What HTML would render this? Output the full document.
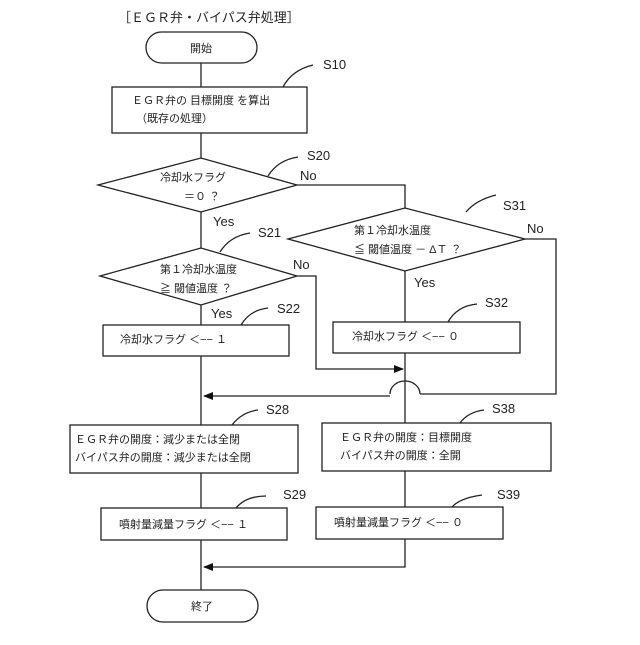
<!DOCTYPE html>
<html><head><meta charset="utf-8"><style>
body{margin:0;background:#fff}
svg text{font-family:"Liberation Sans","Noto Sans CJK JP",sans-serif;fill:#222}
</style></head><body>
<svg width="640" height="640" viewBox="0 0 640 640" xmlns="http://www.w3.org/2000/svg">
<defs><marker id="a" markerWidth="10" markerHeight="8" refX="9" refY="4" orient="auto" markerUnits="userSpaceOnUse"><path d="M0,0 L10,4 L0,8 z" fill="#111"/></marker></defs>
<g stroke="#222" stroke-width="1.3" fill="none">
<rect x="146" y="32" width="111" height="31" rx="15.5" fill="#fff"/>
<line x1="201" y1="63" x2="201" y2="87"/>
<rect x="112" y="87" width="195" height="46"/>
<line x1="201" y1="133" x2="201" y2="158"/>
<polygon points="98,185 201,158 297,185 201,212"/>
<polyline points="297,185 405,185 405,208"/>
<polygon points="288,239 405,208 525,239 405,271"/>
<line x1="201" y1="212" x2="201" y2="248"/>
<polygon points="100,276 201,248 297,276 201,305"/>
<line x1="201" y1="305" x2="201" y2="325"/>
<rect x="103" y="325" width="186" height="31"/>
<line x1="201" y1="356" x2="201" y2="425"/>
<polyline points="297,276 316,276 316,369 403,369" marker-end="url(#a)"/>
<line x1="405" y1="271" x2="405" y2="322"/>
<rect x="333" y="322" width="187" height="31"/>
<line x1="405" y1="353" x2="405" y2="423"/>
<polyline points="525,239 556,239 556,394 420,394"/>
<path d="M420,394 A15,13 0 0 0 390,394"/>
<line x1="390" y1="396" x2="204" y2="396" marker-end="url(#a)"/>
<rect x="70" y="425" width="228" height="48"/>
<rect x="322" y="423" width="229" height="48"/>
<line x1="201" y1="473" x2="201" y2="508"/>
<line x1="405" y1="471" x2="405" y2="507"/>
<rect x="101" y="508" width="186" height="32"/>
<rect x="316" y="507" width="187" height="32"/>
<line x1="201" y1="540" x2="201" y2="590"/>
<polyline points="405,539 405,567 204,567" marker-end="url(#a)"/>
<rect x="147" y="590" width="111" height="32" rx="16" fill="#fff"/>
<path d="M283,87 Q292,70 313,65"/>
<path d="M268,176 Q278,160 298,157"/>
<path d="M220,252 Q230,236 250,233"/>
<path d="M466,212 Q476,200 496,195"/>
<path d="M241,325 Q250,310 268,308"/>
<path d="M448,322 Q457,306 477,304"/>
<path d="M232,425 Q242,412 258,410"/>
<path d="M460,423 Q468,412 484,410"/>
<path d="M236,508 Q246,496 266,496"/>
<path d="M452,507 Q460,498 482,495"/>
</g>
<g font-size="11">
<text x="118" y="22" font-size="13">［ＥＧＲ弁・バイパス弁処理］</text>
<text x="201" y="52" text-anchor="middle">開始</text>
<text x="132" y="104">ＥＧＲ弁の 目標開度 を算出</text>
<text x="136" y="122">（既存の処理）</text>
<text x="160" y="181">冷却水フラグ</text>
<text x="184" y="200">＝０ ？</text>
<text x="354" y="234">第１冷却水温度</text>
<text x="354" y="253">≦ 閾値温度 － ΔＴ ？</text>
<text x="160" y="273">第１冷却水温度</text>
<text x="160" y="292">≧ 閾値温度 ？</text>
<text x="120" y="343">冷却水フラグ ＜−− １</text>
<text x="352" y="340">冷却水フラグ ＜−− ０</text>
<text x="75" y="443">ＥＧＲ弁の開度：減少または全閉</text>
<text x="75" y="461">バイパス弁の開度：減少または全閉</text>
<text x="340" y="441">ＥＧＲ弁の開度：目標開度</text>
<text x="340" y="459">バイパス弁の開度：全開</text>
<text x="119" y="528">噴射量減量フラグ ＜−− １</text>
<text x="334" y="526">噴射量減量フラグ ＜−− ０</text>
<text x="202" y="610" text-anchor="middle">終了</text>
</g>
<g font-size="13">
<text x="323" y="69">S10</text>
<text x="307" y="160">S20</text>
<text x="300" y="180">No</text>
<text x="213" y="226">Yes</text>
<text x="258" y="237">S21</text>
<text x="293" y="269">No</text>
<text x="503" y="210">S31</text>
<text x="527" y="233">No</text>
<text x="414" y="287">Yes</text>
<text x="211" y="318">Yes</text>
<text x="277" y="313">S22</text>
<text x="485" y="307">S32</text>
<text x="266" y="414">S28</text>
<text x="492" y="413">S38</text>
<text x="283" y="499">S29</text>
<text x="497" y="499">S39</text>
</g>
</svg>
</body></html>
